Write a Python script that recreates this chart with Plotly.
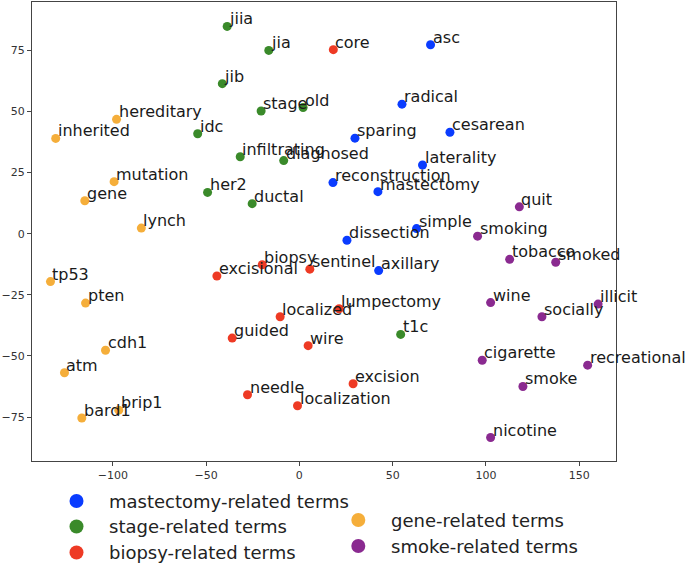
import plotly.graph_objects as go

# word positions, per term group
mast_words = ["asc", "radical", "sparing", "cesarean", "laterality", "reconstruction",
              "mastectomy", "simple", "dissection", "axillary"]
mast_x = [70.3, 55.0, 29.8, 80.7, 66.0, 18.0, 42.1, 62.8, 25.5, 42.5]
mast_y = [77.3, 53.0, 39.1, 41.5, 28.1, 20.9, 17.2, 2.1, -2.7, -15.1]

stage_words = ["jiia", "jia", "jib", "stage", "old", "idc", "infiltrating", "diagnosed",
               "her2", "ductal", "t1c"]
stage_x = [-38.7, -16.4, -41.3, -20.5, 2.0, -54.5, -31.7, -8.4, -49.2, -25.3, 54.3]
stage_y = [84.8, 75.0, 61.4, 50.2, 51.6, 40.9, 31.5, 29.9, 16.9, 12.3, -41.2]

biopsy_words = ["core", "excisional", "biopsy", "sentinel", "localized", "lumpectomy",
                "guided", "wire", "needle", "localization", "excision"]
biopsy_x = [18.2, -44.2, -19.9, 5.6, -10.3, 21.3, -36.0, 4.7, -27.8, -1.0, 28.8]
biopsy_y = [75.3, -17.3, -12.7, -14.5, -34.0, -30.7, -42.7, -45.8, -65.9, -70.4, -61.4]

gene_words = ["hereditary", "inherited", "mutation", "gene", "lynch", "tp53", "pten",
              "cdh1", "atm", "bard1", "brip1"]
gene_x = [-98.0, -130.6, -99.3, -115.0, -84.7, -133.4, -114.6, -103.9, -125.9, -116.6, -96.8]
gene_y = [46.8, 39.0, 21.3, 13.5, 2.3, -19.6, -28.4, -47.7, -56.9, -75.4, -72.2]

smoke_words = ["quit", "smoking", "tobacco", "smoked", "wine", "illicit", "socially",
               "cigarette", "recreational", "smoke", "nicotine"]
smoke_x = [117.9, 95.5, 112.7, 137.4, 102.5, 160.1, 130.0, 98.0, 154.5, 119.8, 102.5]
smoke_y = [11.0, -1.0, -10.5, -11.7, -28.2, -28.8, -34.0, -51.8, -53.8, -62.5, -83.4]

groups = [
    ("mastectomy-related terms", mast_words, mast_x, mast_y, "#0a3cff"),
    ("stage-related terms", stage_words, stage_x, stage_y, "#3a8a2a"),
    ("biopsy-related terms", biopsy_words, biopsy_x, biopsy_y, "#ee3a24"),
    ("gene-related terms", gene_words, gene_x, gene_y, "#f5ae3a"),
    ("smoke-related terms", smoke_words, smoke_x, smoke_y, "#8a2a90"),
]

W, H = 685, 564
ML, MR, MT, MB = 32, 69, 2, 103

# legend slots in page pixels (two columns, like the original figure)
legend_slots = [(76.5, 501), (76.5, 526.5), (76.5, 552.5), (358.3, 520), (358.3, 546)]


def px_to_paper(px, py):
    return (px - ML) / (W - ML - MR), (H - MB - py) / (H - MT - MB)


fig = go.Figure()
for (name, words, xs, ys, col), (lx, ly) in zip(groups, legend_slots):
    fig.add_trace(go.Scatter(
        x=xs, y=ys, mode="markers",
        marker=dict(color=col, size=9),
        showlegend=False,
        cliponaxis=False,
        name=name,
    ))
    # word labels sit just above-right of each dot
    for w, xv, yv in zip(words, xs, ys):
        fig.add_annotation(
            x=xv, y=yv, text=w, showarrow=False,
            xanchor="left", yanchor="bottom",
            xshift=1, yshift=-3, borderpad=0,
            font=dict(family="DejaVu Sans", size=16, color="#1a1a1a"),
        )
    # hand-placed legend entry
    qx, qy = px_to_paper(lx, ly)
    fig.add_shape(
        type="circle", xref="paper", yref="paper",
        xsizemode="pixel", ysizemode="pixel",
        xanchor=qx, yanchor=qy, x0=-7, x1=7, y0=-7, y1=7,
        fillcolor=col, line=dict(width=0),
    )
    tx, ty = px_to_paper(lx + 31.5, ly)
    fig.add_annotation(
        x=tx, y=ty, xref="paper", yref="paper", text=name, showarrow=False,
        xanchor="left", yanchor="middle", borderpad=0,
        font=dict(family="DejaVu Sans", size=18, color="#222222"),
    )

fig.update_layout(
    width=W,
    height=H,
    margin=dict(l=ML, r=MR, t=MT, b=MB),
    plot_bgcolor="white",
    paper_bgcolor="white",
    showlegend=False,
    font=dict(family="DejaVu Sans", size=11, color="#333333"),
)
fig.update_xaxes(
    range=[-143.3, 169.7],
    tickvals=[-100, -50, 0, 50, 100, 150],
    showgrid=False, zeroline=False,
    showline=True, linecolor="#444444", linewidth=1, mirror=True,
    ticks="outside", ticklen=4, tickcolor="#444444",
)
fig.update_yaxes(
    range=[-93.0, 94.8],
    tickvals=[-75, -50, -25, 0, 25, 50, 75],
    showgrid=False, zeroline=False,
    showline=True, linecolor="#444444", linewidth=1, mirror=True,
    ticks="outside", ticklen=4, tickcolor="#444444",
)

fig.write_html("out.html", config={"displayModeBar": False},
               post_script="document.body.style.margin='0';")
